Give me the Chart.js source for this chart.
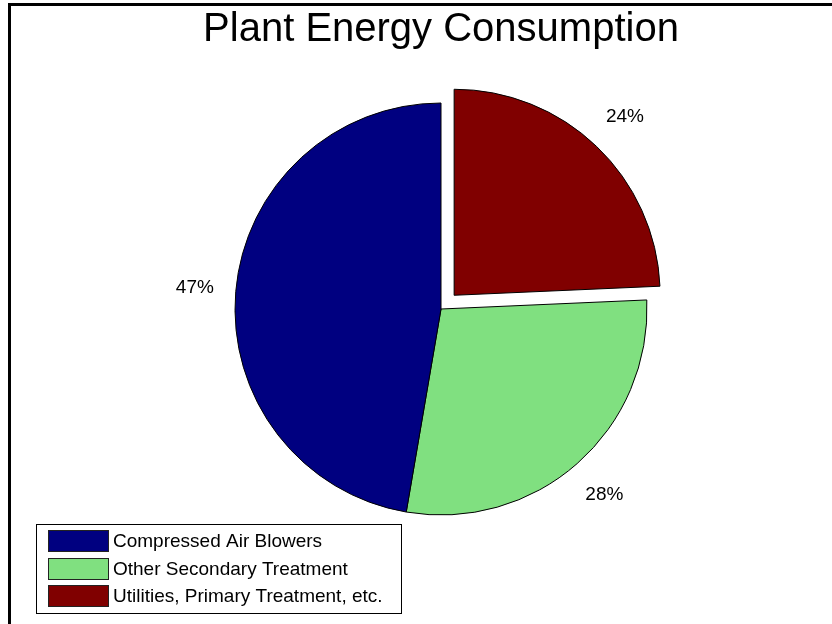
<!DOCTYPE html>
<html>
<head>
<meta charset="utf-8">
<title>Plant Energy Consumption</title>
<script src="https://cdn.jsdelivr.net/npm/chart.js@4.4.1/dist/chart.umd.min.js"></script>
<style>
body { margin: 0; background: #fff; }
#wrap { position: relative; width: 832px; height: 624px; }
</style>
</head>
<body>
<div id="wrap"><canvas id="energyChart" width="832" height="624"></canvas></div>
<script>
// Data (legend order)
const categories = ['Compressed Air Blowers', 'Other Secondary Treatment', 'Utilities, Primary Treatment, etc.'];
const shares = [47.3, 28.4, 24.3];
const sliceColors = ['#000080', '#80e080', '#800000'];
const exploded = [0, 0, 1];

const FONT = '"Liberation Sans", Arial, sans-serif';
const EXPLODE_PX = 19;

// slices run counter-clockwise from 12 o'clock in the original, so feed them reversed
const order = categories.map((c, i) => i).reverse();

// percent labels outside the slices
const pctLabels = {
    id: 'pctLabels',
    afterDatasetsDraw(chart){
        const ctx = chart.ctx;
        const meta = chart.getDatasetMeta(0);
        ctx.save();
        ctx.font = '19px ' + FONT;
        ctx.fillStyle = '#000';
        ctx.textAlign = 'center';
        ctx.textBaseline = 'middle';
        meta.data.forEach((arc, i)=>{
            const p = arc.getProps(['x', 'y', 'startAngle', 'endAngle', 'outerRadius'], true);
            const mid = (p.startAngle + p.endAngle) / 2;
            const shift = exploded[order[i]] ? EXPLODE_PX : 0;
            const r = p.outerRadius + 41 + shift;
            const value = chart.data.datasets[0].data[i];
            ctx.fillText(Math.round(value) + '%', p.x + Math.cos(mid) * r, p.y + Math.sin(mid) * r);
        });
        ctx.restore();
    }
};

// boxed legend bottom-left + frame lines
const boxLegend = {
    id: 'boxLegend',
    afterDraw(chart){
        const ctx = chart.ctx;
        ctx.save();
        ctx.fillStyle = '#000';
        ctx.fillRect(8, 3, 824, 3);
        ctx.fillRect(8, 3, 3, 621);

        ctx.fillStyle = '#fff';
        ctx.fillRect(36, 524, 365, 89);
        ctx.strokeStyle = '#000';
        ctx.lineWidth = 1;
        ctx.strokeRect(36.5, 524.5, 365, 89);

        ctx.font = '19px ' + FONT;
        ctx.textBaseline = 'middle';
        ctx.textAlign = 'left';
        categories.forEach((name, i)=>{
            const y = 530 + i * 27.5;
            ctx.fillStyle = sliceColors[i];
            ctx.fillRect(48, Math.round(y), 60, 21);
            ctx.strokeStyle = '#222';
            ctx.strokeRect(48.5, Math.round(y) + 0.5, 60, 21);
            ctx.fillStyle = '#000';
            ctx.fillText(name, 113, Math.round(y) + 11.5);
        });
        ctx.restore();
    }
};

const ctx = document.getElementById('energyChart').getContext('2d');
new Chart(ctx, {
    type: 'pie',
    data: {
        labels: order.map(i => categories[i]),
        datasets: [{
            data: order.map(i => shares[i]),
            backgroundColor: order.map(i => sliceColors[i]),
            borderColor: '#000',
            borderWidth: 1,
            // v4 arcs move by offset/4
            offset: order.map(i => exploded[i] ? EXPLODE_PX * 4 : 0)
        }]
    },
    options: {
        responsive: false,
        animation: false,
        events: [],
        radius: 206,
        layout: { padding: { top: 0, left: 100, right: 50, bottom: 86 } },
        plugins: {
            legend: { display: false },
            tooltip: { enabled: false },
            title: {
                display: true,
                text: 'Plant Energy Consumption',
                color: '#000',
                font: { family: FONT, size: 40, weight: 'normal' },
                padding: { top: 6, bottom: 26 }
            }
        }
    },
    plugins: [pctLabels, boxLegend]
});
</script>
</body>
</html>
